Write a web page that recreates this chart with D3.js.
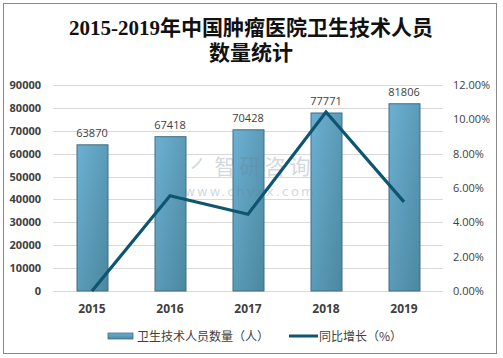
<!DOCTYPE html>
<html><head><meta charset="utf-8">
<script src="https://cdn.jsdelivr.net/npm/d3@7"></script>
<style>body{margin:0;background:#fff}svg{display:block}</style>
</head><body>
<script>
const years = ["2015","2016","2017","2018","2019"];
const staff = [63870, 67418, 70428, 77771, 81806];
const growth = [0.00, 5.55, 4.47, 10.43, 5.19];
const leftTicks = [0,10000,20000,30000,40000,50000,60000,70000,80000,90000];
const rightTicks = [0,2,4,6,8,10,12];
const titleLines = ["2015-2019年中国肿瘤医院卫生技术人员","数量统计"];
const legendLabels = ["卫生技术人员数量（人）","同比增长（%）"];

const W=503,H=358;
const svg=d3.select("body").append("svg").attr("width",W).attr("height",H);
const defs=svg.append("defs");
const g1=defs.append("linearGradient").attr("id","bg").attr("x1","0").attr("y1","0").attr("x2","1").attr("y2","1");
g1.append("stop").attr("offset","0").attr("stop-color","#6cb0d2");
g1.append("stop").attr("offset","1").attr("stop-color","#4b879f");
const g2=defs.append("linearGradient").attr("id","lg").attr("x1","0").attr("y1","0").attr("x2","0").attr("y2","1");
g2.append("stop").attr("offset","0").attr("stop-color","#6cb0d2");
g2.append("stop").attr("offset","1").attr("stop-color","#4b879f");

svg.append("rect").attr("x",3.5).attr("y",3.5).attr("width",493).attr("height",350)
  .attr("fill","#fff").attr("stroke","#888").attr("stroke-width",1);

svg.append("g").selectAll("text").data(titleLines).join("text")
  .attr("x",251).attr("y",(d,i)=>35+i*24.5).attr("text-anchor","middle")
  .attr("font-family","'Liberation Serif','Noto Sans CJK SC',serif").attr("font-size",21).attr("font-weight","bold")
  .attr("fill","#111").text(d=>d);

const x0=53,x1=443,yTop=85,yBot=291;
const x=d3.scaleBand().domain(years).range([x0,x1]);
const yL=d3.scaleLinear().domain([0,90000]).range([yBot,yTop]);
const yR=d3.scaleLinear().domain([0,12]).range([yBot,yTop]);

svg.append("g").selectAll("line").data(leftTicks).join("line")
  .attr("x1",x0).attr("x2",x1).attr("y1",d=>Math.round(yL(d))+0.5).attr("y2",d=>Math.round(yL(d))+0.5)
  .attr("stroke","#d9d9d9").attr("stroke-width",1);

const axL=svg.append("g").attr("transform",`translate(${x0-12},0)`)
  .call(d3.axisLeft(yL).tickValues(leftTicks).tickSize(0).tickPadding(0).tickFormat(d3.format("d")));
axL.select(".domain").remove();
axL.selectAll("text").attr("font-family","'Open Sans',Arial,sans-serif").attr("font-size",11).attr("font-weight","bold").attr("fill","#404040");

const axR=svg.append("g").attr("transform",`translate(${x1+10},0)`)
  .call(d3.axisRight(yR).tickValues(rightTicks).tickSize(0).tickPadding(0).tickFormat(d=>d.toFixed(2)+"%"));
axR.select(".domain").remove();
axR.selectAll("text").attr("font-family","'Open Sans',Arial,sans-serif").attr("font-size",11).attr("fill","#404040");

const axX=svg.append("g").attr("transform",`translate(0,${yBot+13})`)
  .call(d3.axisBottom(x).tickSize(0).tickPadding(0));
axX.select(".domain").remove();
axX.selectAll("text").attr("font-family","'Open Sans',Arial,sans-serif").attr("font-size",12).attr("font-weight","bold").attr("fill","#404040");

const bw=31;
svg.append("g").selectAll("rect").data(staff).join("rect")
  .attr("x",(d,i)=>x(years[i])+x.bandwidth()/2-bw/2+0.5).attr("y",d=>yL(d)).attr("width",bw).attr("height",d=>yBot-yL(d))
  .attr("fill","url(#bg)").attr("stroke","#3e6f84").attr("stroke-width",1);

svg.append("g").selectAll("text").data(staff).join("text")
  .attr("x",(d,i)=>x(years[i])+x.bandwidth()/2).attr("y",d=>yL(d)-8).attr("text-anchor","middle")
  .attr("font-family","'Open Sans',Arial,sans-serif").attr("font-size",11).attr("fill","#404040").text(d=>d);

// watermark
const wm=svg.append("g").attr("opacity",0.3);
wm.append("text").attr("x",252).attr("y",174).attr("text-anchor","middle").attr("font-family","'Noto Sans CJK SC',sans-serif")
  .attr("font-size",21).attr("fill","#6a7f95").attr("letter-spacing",4).text("㇒智研咨询");
wm.append("text").attr("x",250).attr("y",196).attr("text-anchor","middle").attr("font-family","'DejaVu Sans',sans-serif")
  .attr("font-size",13).attr("fill","#6a7f95").attr("letter-spacing",2).text("www.chyxx.com");

const line=d3.line().x((d,i)=>x(years[i])+x.bandwidth()/2).y(d=>yR(d));
svg.append("path").datum(growth).attr("d",line).attr("fill","none").attr("stroke","#0e5570").attr("stroke-width",3.2).attr("stroke-linejoin","miter");

const lg=svg.append("g");
lg.append("rect").attr("x",108).attr("y",333).attr("width",25).attr("height",6).attr("fill","url(#lg)").attr("stroke","#3e6f84").attr("stroke-width",0.8);
lg.append("text").attr("x",137).attr("y",340.5).attr("font-family","'Noto Sans CJK SC',sans-serif").attr("font-size",12).attr("fill","#404040").text(legendLabels[0]);
lg.append("line").attr("x1",289).attr("x2",318).attr("y1",336).attr("y2",336).attr("stroke","#0e5570").attr("stroke-width",3);
lg.append("text").attr("x",319).attr("y",340.5).attr("font-family","'Noto Sans CJK SC',sans-serif").attr("font-size",12).attr("fill","#404040").text(legendLabels[1]);
</script>
</body></html>
